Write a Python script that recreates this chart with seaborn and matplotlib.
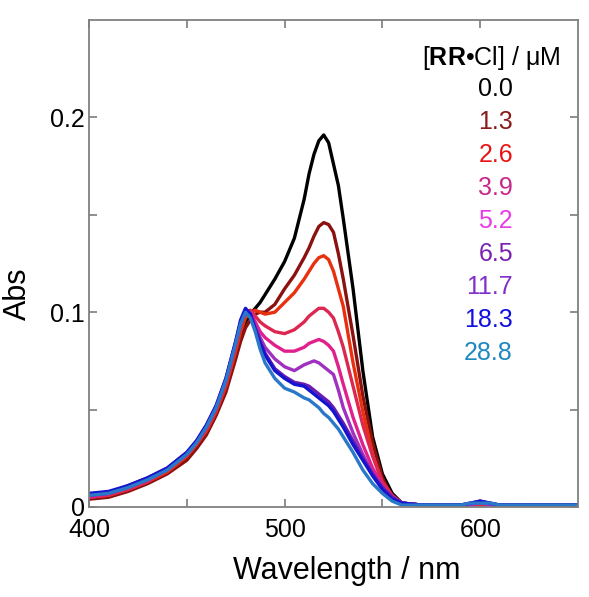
import matplotlib
matplotlib.use("Agg")
import matplotlib.pyplot as plt
from matplotlib.ticker import FixedLocator, FuncFormatter
import seaborn as sns
import pandas as pd

# ---- data ----
wavelength = [400, 410, 420, 430, 440, 450, 455, 460, 465, 470,
              475, 477.5, 480, 482.5, 485, 487.5, 490,
              495, 500, 505, 510,
              512.5, 515, 517.5, 520, 522.5, 525, 527.5, 530,
              535, 540, 545, 550, 555, 560,
              570, 580, 590, 595, 600, 605, 610, 620, 630, 640, 650]

conc_labels = ["0.0", "1.3", "2.6", "3.9", "5.2", "6.5", "11.7", "18.3", "28.8"]

abs_0_0 = [.005, .006, .009, .013, .018, .026, .031, .039, .049, .062,
           .079, .088, .095, .099, .102, .105, .109,
           .117, .126, .138, .158,
           .171, .181, .188, .191, .187, .176, .165, .148,
           .112, .070, .036, .017, .007, .002,
           .001, .001, .001, .001, .002, .001, .001, .001, .001, .001, .001]
abs_1_3 = [.004, .005, .008, .012, .017, .024, .030, .037, .047, .059,
           .076, .085, .092, .096, .099, .100, .100,
           .104, .112, .119, .128,
           .133, .139, .144, .146, .145, .141, .130, .117,
           .088, .057, .033, .015, .005, .002,
           .001, .000, .000, .001, .001, .001, .001, .001, .000, .000, .000]
abs_2_6 = [.005, .006, .009, .013, .018, .026, .032, .039, .049, .062,
           .080, .090, .097, .100, .101, .100, .099,
           .100, .105, .110, .117,
           .121, .125, .128, .129, .127, .121, .112, .103,
           .074, .049, .027, .012, .005, .002,
           .001, .001, .001, .001, .001, .001, .001, .000, .000, .000, .000]
abs_3_9 = [.005, .006, .009, .013, .019, .027, .033, .040, .050, .064,
           .083, .093, .100, .101, .098, .095, .093,
           .090, .089, .091, .095,
           .098, .100, .102, .102, .100, .097, .090, .082,
           .062, .042, .026, .013, .006, .002,
           .001, .001, .001, .001, .002, .001, .001, .001, .000, .000, .000]
abs_5_2 = [.005, .007, .010, .014, .019, .027, .033, .041, .051, .065,
           .084, .094, .101, .100, .095, .090, .087,
           .083, .080, .080, .082,
           .084, .085, .086, .085, .083, .080, .072, .063,
           .046, .032, .020, .011, .005, .002,
           .001, .001, .001, .001, .002, .001, .001, .001, .000, .000, .000]
abs_6_5 = [.006, .007, .010, .014, .019, .027, .033, .041, .051, .065,
           .084, .094, .101, .099, .093, .087, .082,
           .076, .072, .070, .073,
           .074, .075, .074, .072, .070, .068, .060, .051,
           .038, .027, .017, .010, .005, .002,
           .001, .001, .001, .001, .002, .001, .001, .001, .001, .000, .000]
abs_11_7 = [.006, .007, .011, .015, .020, .028, .034, .042, .052, .066,
            .085, .095, .101, .099, .092, .085, .079,
            .071, .067, .064, .063,
            .062, .060, .058, .056, .054, .051, .047, .043,
            .034, .025, .017, .010, .005, .002,
            .001, .001, .001, .002, .003, .002, .001, .001, .001, .001, .001]
abs_18_3 = [.007, .008, .011, .015, .020, .028, .034, .042, .052, .066,
            .085, .096, .102, .099, .091, .084, .078,
            .070, .066, .063, .062,
            .060, .058, .056, .054, .052, .049, .045, .041,
            .032, .024, .016, .009, .004, .002,
            .001, .001, .001, .002, .003, .002, .001, .001, .001, .001, .001]
abs_28_8 = [.006, .007, .010, .014, .019, .027, .033, .041, .051, .065,
            .084, .094, .100, .097, .090, .081, .074,
            .066, .061, .059, .056,
            .055, .053, .051, .048, .046, .043, .040, .036,
            .028, .019, .012, .007, .003, .001,
            .001, .001, .001, .002, .002, .002, .001, .001, .001, .001, .001]

series = [abs_0_0, abs_1_3, abs_2_6, abs_3_9, abs_5_2, abs_6_5, abs_11_7, abs_18_3, abs_28_8]

line_colors = ["#000000", "#8b1010", "#e8300f", "#dc2850", "#e0208c",
               "#a030c0", "#6a1cb0", "#1414d0", "#2a78c8"]
text_colors = ["#000000", "#8b1a1a", "#e81414", "#c8288a", "#e83ce8",
               "#7a20b0", "#8030c8", "#1010e0", "#2088c0"]

frames = []
for lab, vals in zip(conc_labels, series):
    frames.append(pd.DataFrame({"wl": wavelength, "A": vals, "conc": lab}))
df = pd.concat(frames, ignore_index=True)

# ---- style ----
sns.set_style("ticks")
plt.rcParams["font.family"] = ["Liberation Sans", "DejaVu Sans"]
plt.rcParams["mathtext.fontset"] = "custom"
plt.rcParams["mathtext.rm"] = "Liberation Sans"
plt.rcParams["mathtext.bf"] = "Liberation Sans:bold"
plt.rcParams["text.color"] = "black"
plt.rcParams["axes.labelcolor"] = "black"
plt.rcParams["xtick.labelcolor"] = "black"
plt.rcParams["ytick.labelcolor"] = "black"

fig = plt.figure(figsize=(5.89, 5.97), dpi=100)
ax = fig.add_axes([89 / 589, 90 / 597, 489 / 589, 487 / 597])

sns.lineplot(data=df, x="wl", y="A", hue="conc", hue_order=conc_labels,
             palette=dict(zip(conc_labels, line_colors)), linewidth=2.4,
             legend=False, ax=ax, sort=False)

ax.set_xlim(400, 650)
ax.set_ylim(0, 0.25)

ax.xaxis.set_major_locator(FixedLocator([400, 500, 600]))
ax.xaxis.set_minor_locator(FixedLocator([450, 550]))
ax.yaxis.set_major_locator(FixedLocator([0, 0.1, 0.2]))
ax.yaxis.set_minor_locator(FixedLocator([0.05, 0.15]))
ax.yaxis.set_major_formatter(FuncFormatter(lambda v, p: "0" if v == 0 else f"{v:.1f}"))

for s in ax.spines.values():
    s.set_color("#808080")
    s.set_linewidth(1.3)

ax.tick_params(which="both", direction="in", top=True, right=True,
               length=6, width=1.1, color="#707070")
ax.tick_params(axis="x", which="major", labelsize=18, pad=8, labelcolor="black")
ax.tick_params(axis="y", which="major", labelsize=18, pad=3, labelcolor="black")

ax.set_xlabel("Wavelength / nm", fontsize=22, color="black")
ax.set_ylabel("Abs", fontsize=22, color="black")
ax.xaxis.set_label_coords(0.527, -0.10)
ax.yaxis.set_label_coords(-0.115, 0.437)

# concentration legend as text
ax.text(0.963, 0.922, r"[$\mathbf{RR}$•Cl] / μM", transform=ax.transAxes,
        ha="right", va="center", fontsize=18, color="black")
for i, (lab, c) in enumerate(zip(conc_labels, text_colors)):
    ax.text(0.867, 0.858 - 0.0676 * i, lab, transform=ax.transAxes,
            ha="right", va="center", fontsize=18, color=c)

fig.savefig("out.png", dpi=100)
